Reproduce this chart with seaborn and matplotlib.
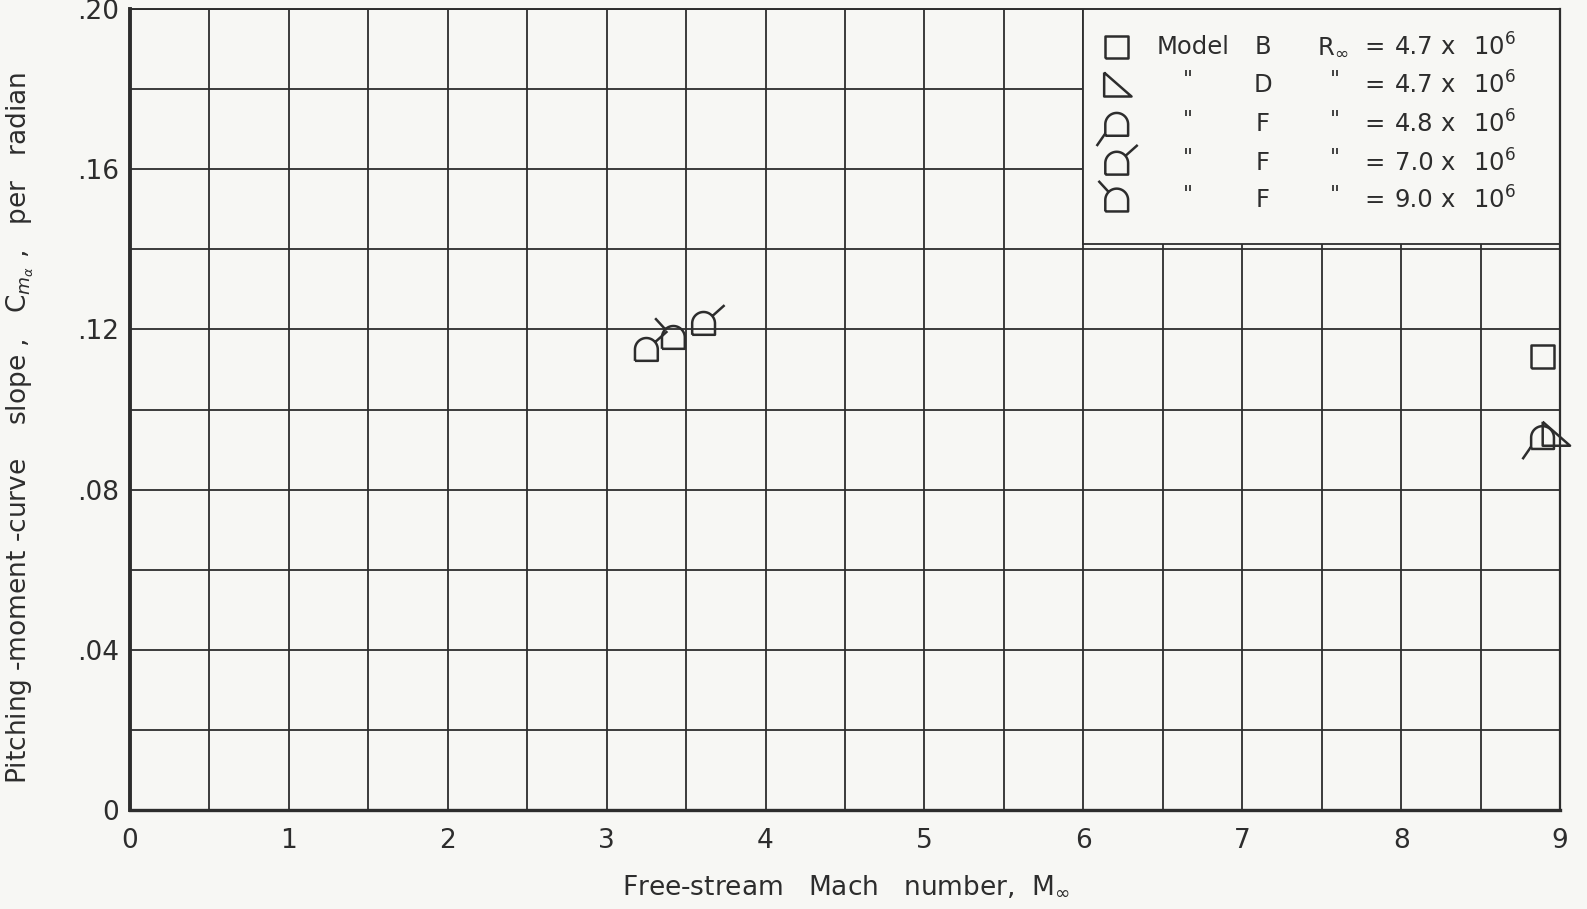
import numpy as np
import pandas as pd
import matplotlib
matplotlib.use("Agg")
import matplotlib.pyplot as plt
import seaborn as sns
from matplotlib.path import Path
from matplotlib.patches import Rectangle

# ---------------- data ----------------
mach_B = [8.89]
cma_B = [0.1132]
mach_D = [8.97]
cma_D = [0.0938]
mach_F48 = [8.89]
cma_F48 = [0.0930]
mach_F70 = [3.25, 3.61]
cma_F70 = [0.1150, 0.1215]
mach_F90 = [3.42]
cma_F90 = [0.1180]

legend_models = ["B", "D", "F", "F", "F"]
legend_reynolds = ["4.7", "4.7", "4.8", "7.0", "9.0"]

x_ticks = [0, 1, 2, 3, 4, 5, 6, 7, 8, 9]
x_tick_labels = ["0", "1", "2", "3", "4", "5", "6", "7", "8", "9"]
y_ticks = [0, 0.04, 0.08, 0.12, 0.16, 0.20]
y_tick_labels = ["0", ".04", ".08", ".12", ".16", ".20"]

# ---------------- style ----------------
BG = "#f7f7f4"
INK = "#2d2d2d"
sns.set_theme(style="white")
plt.rcParams["font.family"] = ["DejaVu Sans"]
plt.rcParams["mathtext.fontset"] = "dejavusans"

# ---------------- marker shapes ----------------
def make_marker(segments):
    # two invisible anchor points fix the normalisation box to [-1, 1]
    verts = [(1.0, 1.0), (-1.0, -1.0)]
    codes = [Path.MOVETO, Path.MOVETO]
    for seg in segments:
        verts += seg
        codes += [Path.MOVETO] + [Path.LINETO] * (len(seg) - 1)
    return Path(verts, codes)

ang = np.linspace(np.pi, 0, 31)
dome = [(-0.5, -0.5), (-0.5, 0.0)] + [(0.5 * np.cos(a), 0.5 * np.sin(a)) for a in ang] + [(0.5, -0.5), (-0.5, -0.5)]
square = [(-0.5, -0.5), (-0.5, 0.5), (0.5, 0.5), (0.5, -0.5), (-0.5, -0.5)]
triangle = [(-0.55, 0.55), (-0.55, -0.5), (0.65, -0.5), (-0.55, 0.55)]
a70 = np.deg2rad(40)
a90 = np.deg2rad(135)

m_square = make_marker([square])
m_triangle = make_marker([triangle])
m_dome48 = make_marker([dome, [(-0.5, -0.4), (-0.88, -0.95)]])
m_dome70 = make_marker([dome, [(0.5 * np.cos(a70), 0.5 * np.sin(a70)), (0.92, 0.8)]])
m_dome90 = make_marker([dome, [(0.5 * np.cos(a90), 0.5 * np.sin(a90)), (-0.8, 0.84)]])
legend_markers = [m_square, m_triangle, m_dome48, m_dome70, m_dome90]

MS = 1080      # scatter size (points^2) for the [-1,1] box
MLW = 1.8

# ---------------- figure ----------------
fig = plt.figure(figsize=(15.87, 9.09), dpi=100, facecolor=BG)
ax = fig.add_axes([0.0819, 0.1089, 0.9011, 0.8812])
ax.set_facecolor(BG)

ax.set_xlim(0, 9)
ax.set_ylim(0, 0.20)
ax.set_xticks(x_ticks)
ax.set_xticklabels(x_tick_labels)
ax.set_xticks(np.arange(0.5, 9, 1.0), minor=True)
ax.set_yticks(y_ticks)
ax.set_yticklabels(y_tick_labels)
ax.set_yticks(np.arange(0.02, 0.2, 0.04), minor=True)
ax.tick_params(which="both", length=0, colors=INK, labelsize=19)
ax.tick_params(axis="x", pad=13)
ax.tick_params(axis="y", pad=8)
ax.set_axisbelow(True)
ax.grid(which="both", color=INK, linewidth=1.3)

for side, lw in (("left", 2.8), ("bottom", 2.4), ("top", 1.4), ("right", 1.6)):
    ax.spines[side].set_visible(True)
    ax.spines[side].set_color(INK)
    ax.spines[side].set_linewidth(lw)

# legend panel hides the grid underneath
ax.add_patch(Rectangle((6.0, 0.1412), 3.2, 0.07, facecolor=BG, edgecolor=INK,
                       linewidth=1.3, zorder=1.5, clip_on=True))

# ---------------- data marks ----------------
series = [
    (mach_B, cma_B, m_square),
    (mach_D, cma_D, m_triangle),
    (mach_F48, cma_F48, m_dome48),
    (mach_F70, cma_F70, m_dome70),
    (mach_F90, cma_F90, m_dome90),
]
for xs, ys, mk in series:
    df = pd.DataFrame({"mach": xs, "cma": ys})
    sns.scatterplot(data=df, x="mach", y="cma", marker=mk, s=MS, color=INK,
                    facecolor="none", edgecolor=INK, linewidth=MLW,
                    ax=ax, zorder=3, clip_on=False, legend=False)

# ---------------- legend ----------------
row_y = [0.1905, 0.1810, 0.1712, 0.1615, 0.1523]
LFS = 17.5
for i, (mk, model, re) in enumerate(zip(legend_markers, legend_models, legend_reynolds)):
    y = row_y[i]
    ax.scatter([6.21], [y], marker=mk, s=MS, facecolor="none", edgecolor=INK,
               linewidth=MLW, zorder=3)
    if i == 0:
        ax.text(6.46, y, "Model", ha="left", va="center", fontsize=LFS, color=INK, zorder=4)
        ax.text(7.47, y, r"R$_\infty$", ha="left", va="center", fontsize=LFS, color=INK, zorder=4)
    else:
        ax.text(6.66, y + 0.0012, '"', ha="center", va="center", fontsize=LFS - 2, color=INK, zorder=4)
        ax.text(7.58, y + 0.0012, '"', ha="center", va="center", fontsize=LFS - 2, color=INK, zorder=4)
    ax.text(7.13, y, model, ha="center", va="center", fontsize=LFS, color=INK, zorder=4)
    ax.text(7.83, y, "=", ha="center", va="center", fontsize=LFS, color=INK, zorder=4)
    ax.text(7.96, y, re, ha="left", va="center", fontsize=LFS, color=INK, zorder=4)
    ax.text(8.29, y, "x", ha="center", va="center", fontsize=LFS, color=INK, zorder=4)
    ax.text(8.45, y, r"10$^6$", ha="left", va="center", fontsize=LFS, color=INK, zorder=4)

# ---------------- axis labels ----------------
ax.set_xlabel(r"Free-stream   Mach   number,  M$_\infty$", fontsize=19, color=INK)
ax.xaxis.set_label_coords(0.501, -0.08)
ax.set_ylabel(r"Pitching -moment -curve    slope ,   C$_{m_\alpha}$ ,   per   radian",
              fontsize=19, color=INK)
ax.yaxis.set_label_coords(-0.066, 0.477)

fig.savefig("out.png", dpi=100, facecolor=BG)
